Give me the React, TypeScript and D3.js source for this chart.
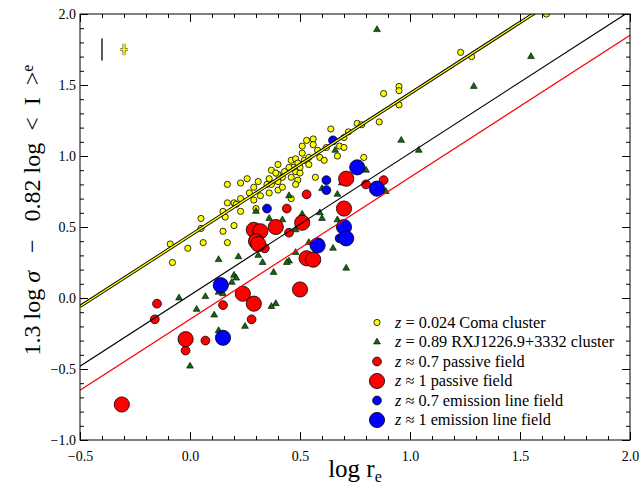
import { useEffect, useRef } from 'react';
import * as d3 from 'd3';

// z = 0.024 Coma cluster
const comaPoints: [number, number][] = [
    [-0.09, 0.38], [-0.08, 0.25], [-0.01, 0.35], [0.05, 0.56], [0.05, 0.49], [0.06, 0.39],
    [0.15, 0.47], [0.17, 0.39], [0.2, 0.51], [0.15, 0.61], [0.16, 0.57], [0.17, 0.67],
    [0.2, 0.67], [0.21, 0.66], [0.23, 0.7], [0.23, 0.61], [0.17, 0.8], [0.23, 0.81],
    [0.26, 0.84], [0.29, 0.78], [0.31, 0.82], [0.35, 0.8], [0.36, 0.84], [0.4, 0.87],
    [0.42, 0.85], [0.37, 0.9], [0.4, 0.76], [0.42, 0.78], [0.36, 0.74], [0.32, 0.72],
    [0.29, 0.69], [0.27, 0.74], [0.3, 0.63], [0.46, 0.7], [0.4, 0.94], [0.39, 0.88],
    [0.43, 0.89], [0.48, 0.89], [0.5, 0.88], [0.46, 0.85], [0.49, 0.83], [0.48, 0.8],
    [0.4, 0.82], [0.37, 0.8], [0.57, 0.85], [0.46, 0.97], [0.48, 0.98], [0.49, 0.95],
    [0.5, 0.92], [0.47, 0.92], [0.45, 0.92], [0.52, 0.97], [0.54, 0.94], [0.51, 1.02],
    [0.53, 1.11], [0.56, 1.12], [0.56, 1.08], [0.51, 1.07], [0.58, 1.04], [0.59, 0.99],
    [0.54, 0.99], [0.61, 0.97], [0.62, 1.06], [0.64, 1.19], [0.67, 1.0], [0.68, 1.07],
    [0.7, 1.06], [0.7, 1.13], [0.72, 1.17], [0.76, 1.23], [0.78, 1.22], [0.86, 1.24],
    [0.79, 0.99], [0.88, 1.44], [0.95, 1.49], [0.95, 1.46], [0.95, 1.36], [1.23, 1.73],
    [1.28, 1.7], [1.62, 2.0],
];

// z = 0.89 RXJ1226.9+3332 cluster
const rxjPoints: [number, number][] = [
    [0.85, 1.89], [1.55, 1.7], [1.29, 1.49], [0.96, 1.11], [1.04, 1.04], [0.66, 1.04],
    [0.8, 0.9], [0.69, 0.81], [0.67, 0.73], [0.6, 0.77], [0.45, 0.72], [0.51, 0.59],
    [0.59, 0.6], [0.6, 0.56], [0.67, 0.55], [0.89, 0.75], [0.54, 0.39], [0.65, 0.35],
    [0.71, 0.21], [0.48, 0.32], [0.48, 0.48], [0.42, 0.55], [0.45, 0.26], [0.38, 0.18],
    [0.39, -0.04], [0.37, -0.06], [0.3, 0.61], [0.36, 0.56], [0.13, 0.27], [0.22, 0.29],
    [0.31, 0.3], [0.33, 0.25], [0.44, 0.25], [0.2, 0.16], [0.21, 0.14], [0.19, 0.11],
    [0.13, 0.04], [0.15, 0.03], [-0.05, 0.0], [0.07, 0.01], [0.03, -0.08], [0.11, -0.12],
    [0.13, -0.23], [0.25, -0.2], [0.0, -0.48],
];

// z ~ 0.7 passive field
const passiveSmall: [number, number][] = [
    [-0.15, -0.04], [-0.16, -0.15], [0.07, -0.3], [-0.02, -0.37], [0.15, -0.05], [0.28, -0.15],
    [0.44, 0.63], [0.45, 0.46], [0.53, 0.73], [0.88, 0.83], [0.8, 0.8], [0.34, 0.35],
];

// z ~ 1 passive field
const passiveLarge: [number, number][] = [
    [-0.31, -0.75], [-0.02, -0.29], [0.24, 0.03], [0.29, -0.04], [0.5, 0.06], [0.53, 0.28],
    [0.56, 0.27], [0.51, 0.53], [0.7, 0.63], [0.71, 0.84], [0.39, 0.5], [0.29, 0.48],
    [0.32, 0.47], [0.3, 0.4], [0.31, 0.38],
];

// z ~ 0.7 emission line field
const emissionSmall: [number, number][] = [
    [0.65, 1.11], [0.62, 0.83], [0.62, 0.76], [0.35, 0.63], [0.68, 0.42],
];

// z ~ 1 emission line field
const emissionLarge: [number, number][] = [
    [0.14, 0.09], [0.15, -0.28], [0.76, 0.92], [0.85, 0.77], [0.7, 0.5], [0.71, 0.42], [0.58, 0.37],
];

// fitted relations: [slope, intercept]
const comaFit = [1.0, 0.44];
const fieldFit = [1.0, 0.02];
const passiveFit = [1.0, -0.15];

// typical error bars: [x, y, xerr, yerr]
const errorBars = [
    [-0.4, 1.75, 0, 0.077],
    [-0.3, 1.75, 0.017, 0.04],
];

const xTicks = [-0.5, 0.0, 0.5, 1.0, 1.5, 2.0];
const yTicks = [-1.0, -0.5, 0.0, 0.5, 1.0, 1.5, 2.0];

const legendLabels = [
    ['z', ' = 0.024 Coma cluster'],
    ['z', ' = 0.89 RXJ1226.9+3332 cluster'],
    ['z', ' ≈ 0.7 passive field'],
    ['z', ' ≈ 1 passive field'],
    ['z', ' ≈ 0.7 emission line field'],
    ['z', ' ≈ 1 emission line field'],
];

const FONT = '"Liberation Serif", "DejaVu Serif", serif';
const GREEN = '#0b6a0b';
const NB = '\u00a0';

function App() {
    const ref = useRef(null);

    useEffect(() => {
        const svg = d3.select(ref.current);
        svg.selectAll('*').remove();

        const left = 80, right = 630, top = 14, bottom = 440;
        const x = d3.scaleLinear().domain([-0.5, 2.0]).range([left, right]);
        const y = d3.scaleLinear().domain([-1.0, 2.0]).range([bottom, top]);

        svg.append('defs').append('clipPath').attr('id', 'plotclip')
            .append('rect').attr('x', left).attr('y', top)
            .attr('width', right - left).attr('height', bottom - top);

        const plot = svg.append('g').attr('clip-path', 'url(#plotclip)');

        const circles = (pts: [number, number][], r: number, fill: string) => {
            plot.append('g').selectAll('circle').data(pts).enter().append('circle')
                .attr('cx', (d) => x(d[0])).attr('cy', (d) => y(d[1])).attr('r', r)
                .attr('fill', fill).attr('stroke', '#000').attr('stroke-width', 0.8);
        };

        circles(comaPoints, 3.1, '#ffff00');

        const tri = d3.symbol(d3.symbolTriangle, 20);
        plot.append('g').selectAll('path').data(rxjPoints).enter().append('path')
            .attr('d', tri as any)
            .attr('transform', (d) => `translate(${x(d[0])},${y(d[1])})`)
            .attr('fill', GREEN).attr('stroke', '#000').attr('stroke-width', 0.6);

        circles(passiveSmall, 4.4, '#ff0000');
        circles(passiveLarge, 7.6, '#ff0000');
        circles(emissionSmall, 4.4, '#0000ff');
        circles(emissionLarge, 7.6, '#0000ff');

        // fit lines
        const fitLine = (fit: number[], color: string, width: number) => {
            plot.append('line')
                .attr('x1', x(-0.5)).attr('y1', y(fit[0] * -0.5 + fit[1]))
                .attr('x2', x(2.0)).attr('y2', y(fit[0] * 2.0 + fit[1]))
                .attr('stroke', color).attr('stroke-width', width);
        };
        fitLine(comaFit, '#000', 3.2);
        fitLine(comaFit, '#ffff00', 1.4);
        fitLine(fieldFit, '#000', 1.2);
        fitLine(passiveFit, '#ff0000', 1.2);

        // error bars
        errorBars.forEach((e, i) => {
            const g = svg.append('g');
            const color = i === 0 ? '#000' : '#ffff00';
            const parts: number[][] = [[e[0], e[1] - e[3], e[0], e[1] + e[3]]];
            if (e[2] > 0) parts.push([e[0] - e[2], e[1], e[0] + e[2], e[1]]);
            if (i === 1) {
                parts.forEach((p) => g.append('line')
                    .attr('x1', x(p[0])).attr('y1', y(p[1])).attr('x2', x(p[2])).attr('y2', y(p[3]))
                    .attr('stroke', '#555').attr('stroke-width', 3));
            }
            parts.forEach((p) => g.append('line')
                .attr('x1', x(p[0])).attr('y1', y(p[1])).attr('x2', x(p[2])).attr('y2', y(p[3]))
                .attr('stroke', color).attr('stroke-width', i === 1 ? 1.6 : 1.3));
        });

        // frame and ticks
        svg.append('rect').attr('x', left).attr('y', top)
            .attr('width', right - left).attr('height', bottom - top)
            .attr('fill', 'none').attr('stroke', '#000').attr('stroke-width', 1);

        const xMinor = d3.range(-5, 21).map((v) => v / 10);
        const yMinor = d3.range(-10, 21).map((v) => v / 10);
        const tickStyle = (g: any) => {
            g.select('.domain').remove();
            g.selectAll('line').attr('stroke', '#000').attr('stroke-width', 1);
        };

        svg.append('g').attr('transform', `translate(0,${bottom})`)
            .call(d3.axisBottom(x).tickValues(xMinor).tickSize(-4).tickFormat(() => '')).call(tickStyle);
        svg.append('g').attr('transform', `translate(0,${top})`)
            .call(d3.axisTop(x).tickValues(xMinor).tickSize(-4).tickFormat(() => '')).call(tickStyle);
        svg.append('g').attr('transform', `translate(${left},0)`)
            .call(d3.axisLeft(y).tickValues(yMinor).tickSize(-4).tickFormat(() => '')).call(tickStyle);
        svg.append('g').attr('transform', `translate(${right},0)`)
            .call(d3.axisRight(y).tickValues(yMinor).tickSize(-4).tickFormat(() => '')).call(tickStyle);

        const fmt = d3.format('.1f');
        svg.append('g').attr('transform', `translate(0,${bottom})`)
            .call(d3.axisBottom(x).tickValues(xTicks).tickSize(-8).tickPadding(11).tickFormat(fmt as any))
            .call(tickStyle)
            .selectAll('text').attr('font-family', FONT).attr('font-size', 14).attr('fill', '#000');
        svg.append('g').attr('transform', `translate(0,${top})`)
            .call(d3.axisTop(x).tickValues(xTicks).tickSize(-8).tickFormat(() => '')).call(tickStyle);
        svg.append('g').attr('transform', `translate(${left},0)`)
            .call(d3.axisLeft(y).tickValues(yTicks).tickSize(-8).tickPadding(4).tickFormat(fmt as any))
            .call(tickStyle)
            .selectAll('text').attr('font-family', FONT).attr('font-size', 14).attr('fill', '#000');
        svg.append('g').attr('transform', `translate(${right},0)`)
            .call(d3.axisRight(y).tickValues(yTicks).tickSize(-8).tickFormat(() => '')).call(tickStyle);

        // axis titles
        const xl = svg.append('text').attr('x', 355).attr('y', 477)
            .attr('text-anchor', 'middle').attr('font-family', FONT).attr('font-size', 25);
        xl.append('tspan').text('log r');
        xl.append('tspan').attr('font-size', 16).attr('dy', 5).text('e');

        const yl = svg.append('text').attr('transform', 'translate(40,210) rotate(-90)')
            .attr('text-anchor', 'middle').attr('font-family', FONT).attr('font-size', 24);
        yl.append('tspan').text(`1.3 log${NB}`);
        yl.append('tspan').attr('font-style', 'italic').text('σ');
        yl.append('tspan').text(`${NB}${NB}${NB}−${NB}${NB}${NB}0.82 log${NB}${NB}<${NB}${NB}I${NB}${NB}>`);
        yl.append('tspan').attr('font-size', 16).attr('dy', -7).text('e');

        // legend
        const lg = svg.append('g');
        const rows = legendLabels.map((_, i) => 322.5 + i * 19.5);
        const mx = 377;
        lg.append('circle').attr('cx', mx).attr('cy', rows[0]).attr('r', 3.1)
            .attr('fill', '#ffff00').attr('stroke', '#000').attr('stroke-width', 0.8);
        lg.append('path').attr('d', tri as any).attr('transform', `translate(${mx},${rows[1]})`)
            .attr('fill', GREEN).attr('stroke', '#000').attr('stroke-width', 0.6);
        [[4.4, '#ff0000'], [7.6, '#ff0000'], [4.4, '#0000ff'], [7.6, '#0000ff']].forEach((m, i) => {
            lg.append('circle').attr('cx', mx).attr('cy', rows[i + 2]).attr('r', m[0] as number)
                .attr('fill', m[1] as string).attr('stroke', '#000').attr('stroke-width', 0.8);
        });
        legendLabels.forEach((lab, i) => {
            const t = lg.append('text').attr('x', 395).attr('y', rows[i] + 5)
                .attr('font-family', FONT).attr('font-size', 16.3);
            t.append('tspan').attr('font-style', 'italic').text(lab[0]);
            t.append('tspan').text(lab[1]);
        });
    }, []);

    return (
        <svg ref={ref} width="639" height="485"
            style={{ position: 'absolute', left: 0, top: 0, background: '#fff' }}></svg>
    );
}

export default App;
